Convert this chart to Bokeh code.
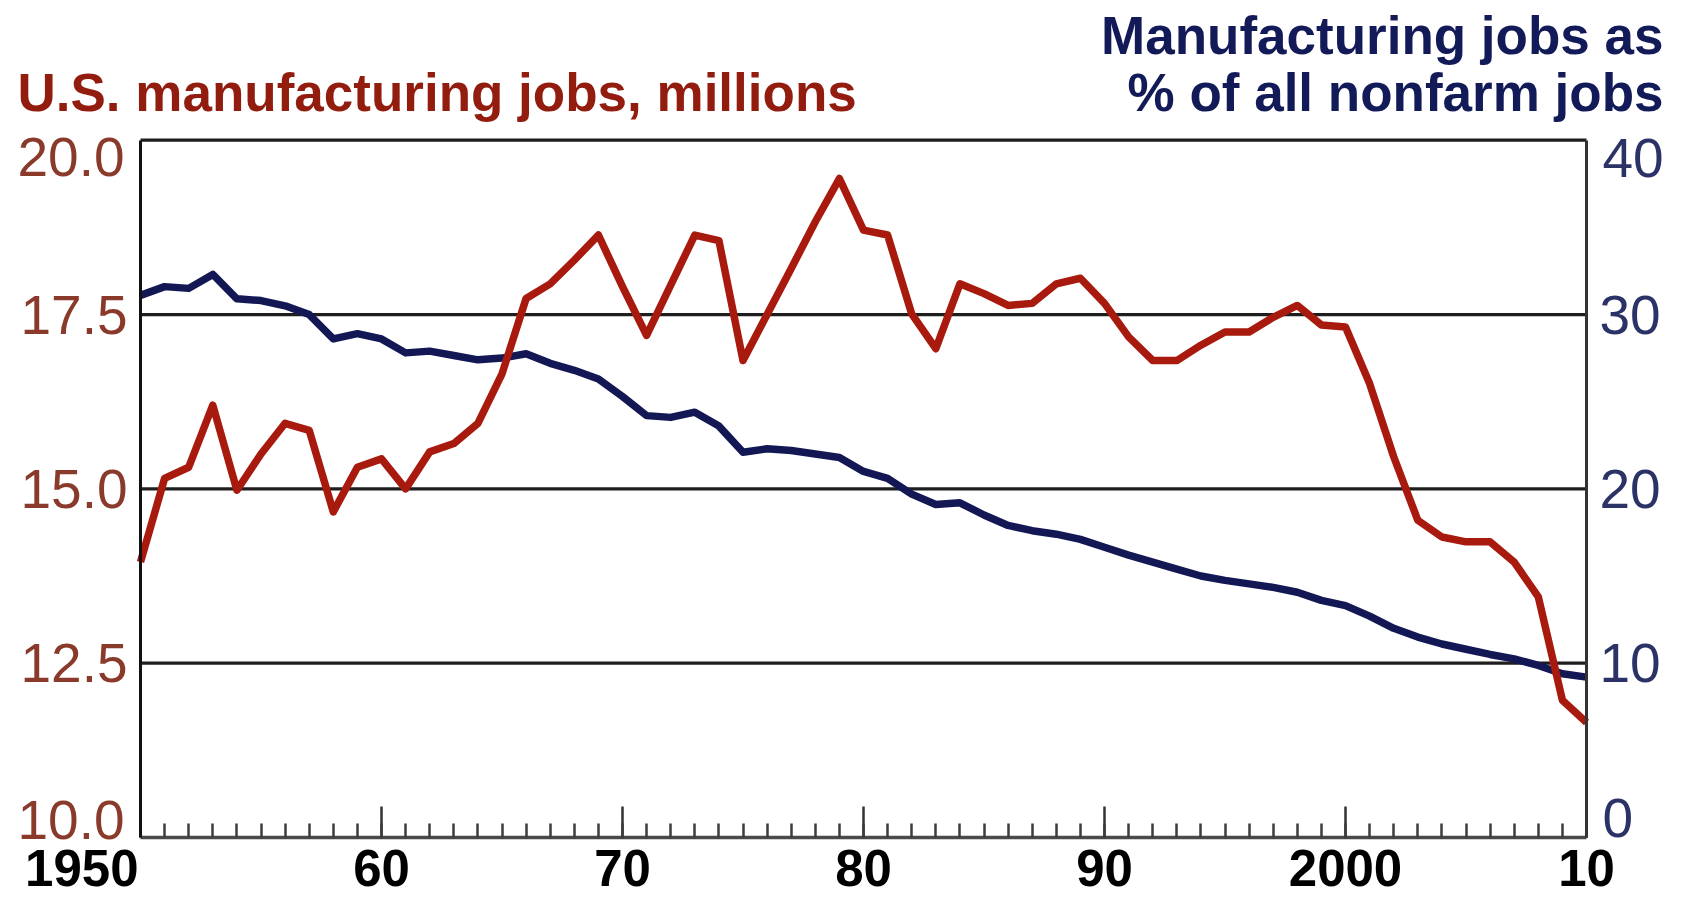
from bokeh.plotting import figure
from bokeh.models import (Range1d, LinearAxis, FixedTicker, NumeralTickFormatter, Label)
from bokeh.embed import file_html
from bokeh.resources import INLINE

# ---------------- data ----------------
years = list(range(1950, 2011))

mfg_jobs_millions = [
    13.95, 15.15, 15.31, 16.20, 14.98, 15.50, 15.94, 15.84, 14.67, 15.31,   # 1950-59
    15.43, 15.00, 15.53, 15.65, 15.94, 16.65, 17.73, 17.94, 18.28, 18.64,   # 1960-69
    17.90, 17.20, 17.92, 18.64, 18.56, 16.84, 17.50, 18.16, 18.83, 19.45,   # 1970-79
    18.71, 18.64, 17.51, 17.01, 17.94, 17.80, 17.63, 17.66, 17.94, 18.02,   # 1980-89
    17.66, 17.18, 16.84, 16.84, 17.06, 17.25, 17.25, 17.46, 17.63, 17.35,   # 1990-99
    17.32, 16.51, 15.46, 14.55, 14.31, 14.24, 14.24, 13.95, 13.45, 11.97,   # 2000-09
    11.65,                                                                  # 2010
]

pct_of_nonfarm = [
    31.1, 31.6, 31.5, 32.3, 30.9, 30.8, 30.5, 30.0, 28.6, 28.9,   # 1950-59
    28.6, 27.8, 27.9, 27.65, 27.4, 27.5, 27.75, 27.2, 26.8, 26.3,  # 1960-69
    25.3, 24.2, 24.1, 24.4, 23.6, 22.1, 22.3, 22.2, 22.0, 21.8,   # 1970-79
    21.0, 20.6, 19.7, 19.1, 19.2, 18.5, 17.9, 17.6, 17.4, 17.1,   # 1980-89
    16.65, 16.2, 15.8, 15.4, 15.0, 14.75, 14.55, 14.35, 14.07, 13.6,  # 1990-99
    13.3, 12.7, 12.0, 11.5, 11.1, 10.8, 10.5, 10.25, 9.87, 9.39,  # 2000-09
    9.2,                                                          # 2010
]

left_ticks = [10, 12.5, 15, 17.5, 20]
grid_ticks = [12.5, 15, 17.5]
right_ticks = [0, 10, 20, 30, 40]
x_major_ticks = [1950, 1960, 1970, 1980, 1990, 2000, 2010]
x_tick_labels = ["1950", "60", "70", "80", "90", "2000", "10"]

left_title = "U.S. manufacturing jobs, millions"
right_title_1 = "Manufacturing jobs as"
right_title_2 = "% of all nonfarm jobs"

# ---------------- layout (page pixels) ----------------
W, H = 1688, 902
FRAME_L, FRAME_R, FRAME_T, FRAME_B = 140, 1586, 139.7, 837

# ---------------- colours / fonts ----------------
RED_LINE = "#a81a0e"
RED_TEXT = "#921c0e"
RED_TICK = "#8a3a2a"
BLUE_LINE = "#131855"
BLUE_TEXT = "#131a58"
BLUE_TICK = "#2b3266"
FONT = "Liberation Sans"
TICK_PX = 55
TICK_SIZE = f"{TICK_PX}px"
XLAB_PX = 51
TITLE_PX = 53
BASE_SHIFT = 0.37  # rendered baseline sits this many em below the anchor


def below(px, fs):
    """y_offset that puts a text baseline `px` pixels below its anchor."""
    return -(px - BASE_SHIFT * fs)


# ranges chosen so that the data box sits at the reference position while the
# plotting frame covers the whole canvas (so titles are not clipped)
xpx = (FRAME_R - FRAME_L) / (years[-1] - years[0])
ypx = (FRAME_B - FRAME_T) / (left_ticks[-1] - left_ticks[0])
x0 = years[0] - FRAME_L / xpx
x1 = years[-1] + (W - FRAME_R) / xpx
y0 = left_ticks[0] - (H - FRAME_B) / ypx
y1 = left_ticks[-1] + FRAME_T / ypx
ratio = (right_ticks[-1] - right_ticks[0]) / (left_ticks[-1] - left_ticks[0])
r0 = right_ticks[0] + (y0 - left_ticks[0]) * ratio
r1 = right_ticks[0] + (y1 - left_ticks[0]) * ratio

p = figure(width=W, height=H, output_backend="svg", toolbar_location=None,
           x_range=Range1d(x0, x1), y_range=Range1d(y0, y1),
           x_axis_location=None, y_axis_location=None,
           min_border_left=0, min_border_right=0, min_border_top=0, min_border_bottom=0,
           background_fill_color="white", border_fill_color="white")
p.extra_y_ranges = {"pct": Range1d(r0, r1)}
p.outline_line_color = None
p.grid.visible = False

# horizontal rules: gridlines + top frame line, spanning the data years only
rule_values = grid_ticks + [left_ticks[-1]]
p.segment(x0=[years[0]] * len(rule_values), x1=[years[-1]] * len(rule_values),
          y0=rule_values, y1=rule_values, line_color="#1e1e1e", line_width=3.2)

# left axis
ya = LinearAxis(fixed_location=years[0], bounds=(left_ticks[0], left_ticks[-1]),
                ticker=FixedTicker(ticks=grid_ticks),
                formatter=NumeralTickFormatter(format="0.0"))
ya.axis_line_color = "#111111"
ya.axis_line_width = 3
ya.major_tick_line_color = None
ya.minor_tick_line_color = None
ya.major_label_text_font = FONT
ya.major_label_text_font_size = TICK_SIZE
ya.major_label_text_color = RED_TICK
ya.major_label_standoff = 7
p.add_layout(ya, "left")

# right axis
ra = LinearAxis(y_range_name="pct", fixed_location=years[-1],
                bounds=(right_ticks[0], right_ticks[-1]),
                ticker=FixedTicker(ticks=right_ticks[1:-1]))
ra.axis_line_color = "#333333"
ra.axis_line_width = 3
ra.major_tick_line_color = None
ra.minor_tick_line_color = None
ra.major_label_text_font = FONT
ra.major_label_text_font_size = TICK_SIZE
ra.major_label_text_color = BLUE_TICK
ra.major_label_standoff = 7
p.add_layout(ra, "right")

# bottom axis
xa = LinearAxis(fixed_location=left_ticks[0], bounds=(years[0], years[-1]),
                ticker=FixedTicker(ticks=x_major_ticks[1:], minor_ticks=years))
xa.major_label_overrides = dict(zip(x_major_ticks[1:], x_tick_labels[1:]))
xa.axis_line_color = "#4a4a4a"
xa.axis_line_width = 3.5
xa.major_tick_in = 31
xa.major_tick_out = 0
xa.minor_tick_in = 14
xa.minor_tick_out = 0
xa.major_tick_line_color = "#333333"
xa.major_tick_line_width = 2.5
xa.minor_tick_line_color = "#3c3c3c"
xa.minor_tick_line_width = 2.5
xa.major_label_text_font = FONT
xa.major_label_text_font_style = "bold"
xa.major_label_text_font_size = f"{XLAB_PX}px"
xa.major_label_text_color = "black"
xa.major_label_standoff = 12
p.add_layout(xa, "below")

# end-of-scale tick labels, aligned inside the box like the reference
p.add_layout(Label(x=years[0], y=left_ticks[-1], text=f"{left_ticks[-1]:.1f}",
                   x_offset=-16, y_offset=below(37, TICK_PX), text_align="right",
                   text_baseline="alphabetic", text_font=FONT,
                   text_font_size=TICK_SIZE, text_color=RED_TICK))
p.add_layout(Label(x=years[0], y=left_ticks[0], text=f"{left_ticks[0]:.1f}",
                   x_offset=-16, y_offset=below(2.5, TICK_PX), text_align="right",
                   text_baseline="alphabetic", text_font=FONT,
                   text_font_size=TICK_SIZE, text_color=RED_TICK))
p.add_layout(Label(x=years[-1], y=right_ticks[-1], y_range_name="pct",
                   text=str(right_ticks[-1]),
                   x_offset=16, y_offset=below(38.3, TICK_PX), text_align="left",
                   text_baseline="alphabetic", text_font=FONT,
                   text_font_size=TICK_SIZE, text_color=BLUE_TICK))
p.add_layout(Label(x=years[-1], y=right_ticks[0], y_range_name="pct",
                   text=str(right_ticks[0]),
                   x_offset=16, y_offset=below(1, TICK_PX), text_align="left",
                   text_baseline="alphabetic", text_font=FONT,
                   text_font_size=TICK_SIZE, text_color=BLUE_TICK))
p.add_layout(Label(x=x_major_ticks[0], y=left_ticks[0], text=x_tick_labels[0],
                   x_offset=-2, y_offset=below(49, XLAB_PX), text_align="right",
                   text_baseline="alphabetic", text_font=FONT,
                   text_font_style="bold", text_font_size=f"{XLAB_PX}px",
                   text_color="black"))

# series (blue underneath, red on top)
p.line(years, pct_of_nonfarm, y_range_name="pct", line_color=BLUE_LINE,
       line_width=7.5, line_join="round")
p.line(years, mfg_jobs_millions, line_color=RED_LINE, line_width=7.5,
       line_join="round")

# titles (screen units, measured from the canvas bottom-left)
shift = BASE_SHIFT * TITLE_PX
p.add_layout(Label(x=17, y=H - 111.7 + shift, x_units="screen", y_units="screen",
                   text=left_title, text_font=FONT, text_font_style="bold",
                   text_font_size=f"{TITLE_PX}px", text_color=RED_TEXT,
                   text_align="left", text_baseline="alphabetic"))
p.add_layout(Label(x=1663, y=H - 54.5 + shift, x_units="screen", y_units="screen",
                   text=right_title_1, text_font=FONT, text_font_style="bold",
                   text_font_size=f"{TITLE_PX}px", text_color=BLUE_TEXT,
                   text_align="right", text_baseline="alphabetic"))
p.add_layout(Label(x=1663, y=H - 111.7 + shift, x_units="screen", y_units="screen",
                   text=right_title_2, text_font=FONT, text_font_style="bold",
                   text_font_size=f"{TITLE_PX}px", text_color=BLUE_TEXT,
                   text_align="right", text_baseline="alphabetic"))

open("out.html", "w").write(file_html(p, INLINE))
